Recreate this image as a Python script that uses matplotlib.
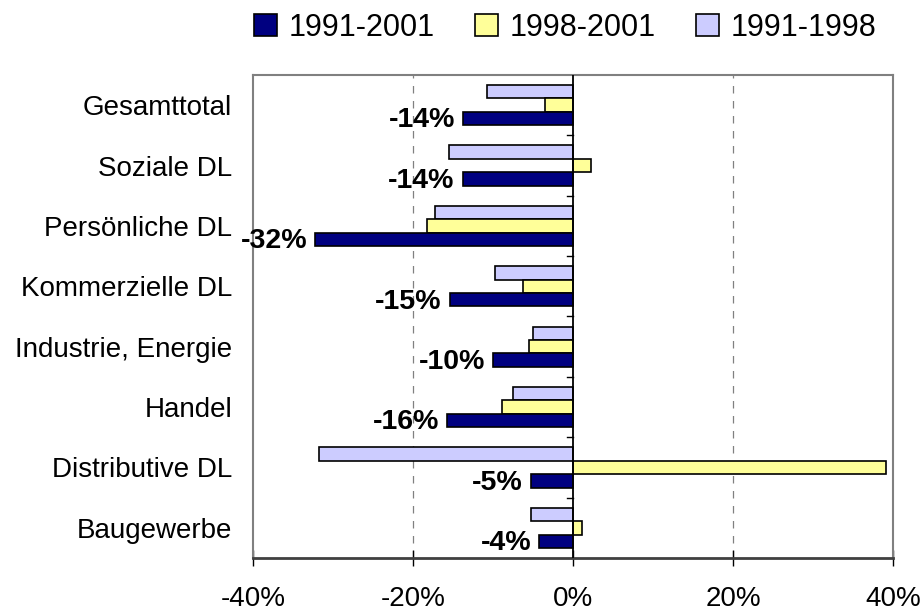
import numpy as np
import matplotlib
matplotlib.use('Agg')
import matplotlib.pyplot as plt

plt.rcParams['font.family'] = ['Liberation Sans', 'DejaVu Sans']

categories = ['Gesamttotal', 'Soziale DL', 'Persönliche DL', 'Kommerzielle DL',
              'Industrie, Energie', 'Handel', 'Distributive DL', 'Baugewerbe']
series_names = ['1991-2001', '1998-2001', '1991-1998']
v_91_01 = [-13.7, -13.8, -32.2, -15.4, -10.0, -15.7, -5.3, -4.2]
v_98_01 = [-3.5, 2.3, -18.2, -6.2, -5.5, -8.9, 39.1, 1.1]
v_91_98 = [-10.7, -15.5, -17.3, -9.7, -5.0, -7.5, -31.8, -5.3]
xticks = [-40, -20, 0, 20, 40]

col_navy = '#000080'
col_yellow = '#FFFF99'
col_lav = '#CCCCFF'

fig = plt.figure(figsize=(9.22, 6.12), dpi=100)
ax = fig.add_axes([0.2744, 0.0882, 0.6941, 0.7893])

n = len(categories)
y = np.arange(n)
h = 1 / 4.5
# top to bottom in each group: 1991-1998, 1998-2001, 1991-2001
b3 = ax.barh(y - h, v_91_98, height=h, color=col_lav, edgecolor='black', linewidth=1.2, zorder=3)
b2 = ax.barh(y, v_98_01, height=h, color=col_yellow, edgecolor='black', linewidth=1.2, zorder=3)
b1 = ax.barh(y + h, v_91_01, height=h, color=col_navy, edgecolor='black', linewidth=1.2, zorder=3)

for yi, v in zip(y, v_91_01):
    ax.text(v - 1.0, yi + h + 0.03, f'{v:.0f}%', ha='right', va='center',
            fontsize=20.5, fontweight='bold', zorder=4)

ax.set_xlim(-40, 40)
ax.set_ylim(n - 0.5, -0.5)
ax.set_xticks(xticks)
ax.set_xticklabels([f'{t}%' for t in xticks], fontsize=20)
ax.set_yticks(y)
ax.set_yticklabels(categories, fontsize=20)
ax.tick_params(axis='y', length=0, pad=15)
ax.tick_params(axis='x', direction='inout', length=12, width=1, pad=14)

for t in [-20, 20]:
    ax.axvline(t, color='#808080', linestyle=(0, (6, 6)), linewidth=0.9, zorder=1)
ax.axvline(0, color='black', linewidth=1.3, zorder=4)
for bnd in np.arange(0.5, n - 0.5, 1.0):
    ax.plot([-0.7, 0], [bnd, bnd], color='black', linewidth=1, zorder=4)

for s in ['left', 'right', 'top']:
    ax.spines[s].set_color('#808080')
    ax.spines[s].set_linewidth(1.5)
ax.spines['bottom'].set_color('#404040')
ax.spines['bottom'].set_linewidth(2)

fig.legend([b1, b2, b3], series_names, loc='center', bbox_to_anchor=(0.613, 0.955),
           ncol=3, frameon=False, fontsize=22, handlelength=0.75, handleheight=0.75,
           handletextpad=0.4, columnspacing=1.3, borderaxespad=0, borderpad=0)

fig.savefig('out.png', dpi=100)
